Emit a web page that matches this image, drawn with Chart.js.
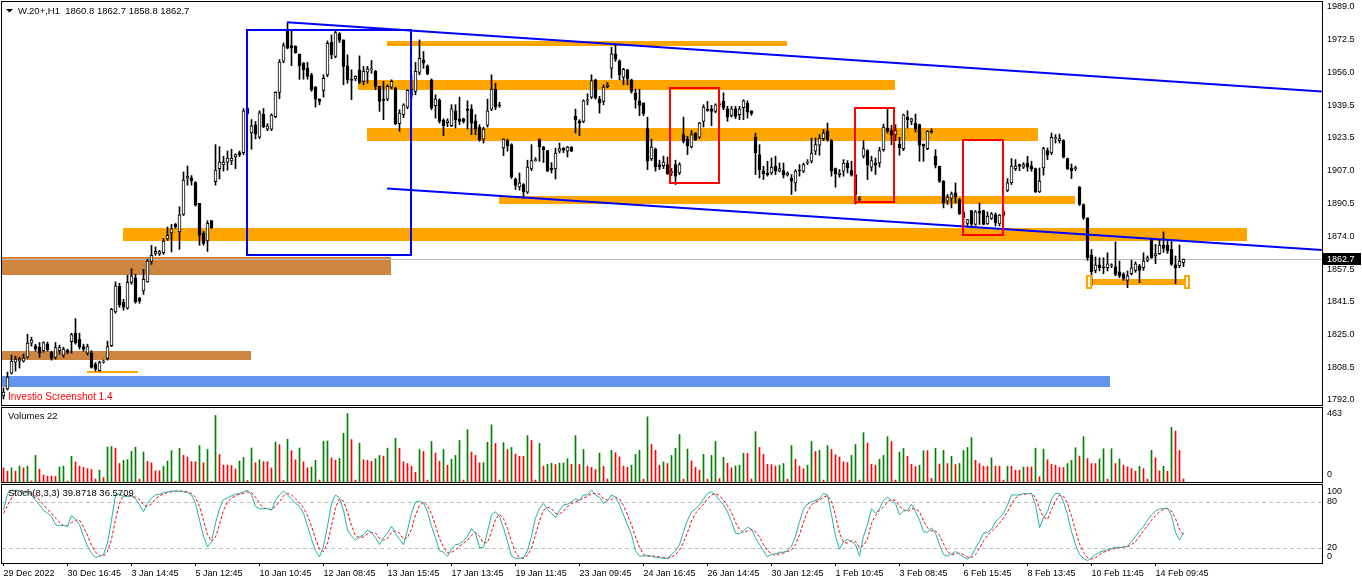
<!DOCTYPE html>
<html>
<head>
<meta charset="utf-8">
<title>W.20+,H1</title>
<script src="https://cdn.jsdelivr.net/npm/chart.js@4.4.1/dist/chart.umd.min.js"></script>
<style>
    html, body { margin: 0; padding: 0; background: #fff; overflow: hidden; }
    #wrap { position: relative; width: 1362px; height: 585px; overflow: hidden; background: #fff; }
    #wrap canvas { position: absolute; left: 0; top: -20px; }
</style>
</head>
<body>
<div id="wrap">
    <canvas id="priceChart" width="1362" height="625"></canvas>
    <canvas id="volumeChart" width="1362" height="625"></canvas>
    <canvas id="stochChart" width="1362" height="625"></canvas>
</div>
<script>
// ---- data (one entry per bar, oldest first) ----
const opens = [
    1794,1797.5,1805.5,1811,1811.5,1811.5,1813.5,1820.5,1819,1818.5, 1816.7,1820,1815.8,1813.3,1816.7,1814.5,1817,1821.2,1825.5,1822.5,
    1818.8,1815.5,1815.5,1810,1806.7,1811,1812.8,1819.2,1836.2,1849, 1841,1838,1851,1853.3,1843,1846.7,1851.2,1861.5,1865.5,1865.2,
    1865.8,1872.8,1875.7,1880.1,1876.3,1885,1903.2,1903.2,1901,1890.6, 1875.7,1871.7,1881.9,1901.4,1908,1909.8,1911.2,1911.9,1913.8,1916,
    1916,1938.1,1925.9,1929.9,1923.8,1935.2,1927.8,1927.8,1934,1946.2, 1961.9,1977.1,1969.6,1969.3,1965.4,1960.8,1958.3,1955,1948.8,1942.8,
    1947.2,1955,1971.3,1964.2,1975.5,1972.5,1959.5,1952.8,1953,1957.5, 1951.7,1956.3,1957.5,1956.7,1949.2,1942.5,1942.8,1948.8,1948.3,1930.5,
    1935,1938.8,1945,1946.7,1956.2,1962.5,1959.5,1952.5,1939.5,1942.2, 1932.2,1931,1929.5,1937,1933,1933,1938,1937.8,1932,1928.8,
    1922.8,1929.7,1937.8,1947.8,1940,1918.3,1922,1920,1902.8,1898.8, 1900,1896.2,1907.8,1912,1922.5,1918.8,1917,1908.3,1907.8,1916.7,
    1918.3,1916.7,1918.8,1934.2,1932,1931.7,1942,1943.8,1952.5,1942.8, 1941.7,1949,1958.3,1965.5,1962,1953.8,1957.5,1952.5,1945.8,1942,
    1940.8,1928,1912.8,1917.8,1910,1909.5,1910,1906,1910,1905.8, 1925,1922.8,1918.8,1925.8,1923.8,1931.7,1937.5,1938,1936.7,1940,
    1941.7,1938,1934.7,1938,1935,1938.5,1940.8,1937,1923.7,1915, 1907,1905.8,1905.8,1909.2,1906.7,1907,1904.7,1903.3,1900.8,1907,
    1906.7,1910.8,1911.7,1916.7,1919.7,1923,1926.7,1922,1908,1905, 1906.7,1910.8,1907,1905,1892.5,1914.2,1917,1908.7,1910.8,1910.8,
    1917.5,1928.3,1927,1925,1920.3,1918,1933.7,1931.7,1930.8,1930, 1920.3,1918,1926.5,1914.2,1909.2,1901.7,1891.7,1893,1895.8,1892.5,
    1886,1880.5,1887,1880,1886.7,1887,1880.3,1883,1885,1880.3, 1886.3,1897,1900.8,1908,1910,1908.7,1910.8,1909.2,1908,1896.3,
    1908.3,1917,1915.8,1923,1922,1922,1913,1908.3,1908,1898.7, 1890,1883.3,1864.7,1857,1859.7,1858.3,1858.3,1859.3,1858.7,1856.3,
    1855.3,1852,1855.3,1857,1859.2,1858.3,1862,1872.5,1864.2,1865.3, 1869.7,1869.7,1867.5,1859.7,1859.2,1860.8
];
const highs = [
    1798,1806,1814.5,1814,1813.5,1815,1825,1823.5,1820,1820.8, 1821.2,1821,1816.5,1820.8,1819.5,1818.5,1817.5,1825.5,1832.8,1825.5,
    1820,1820,1816.7,1810.8,1811.5,1812,1821.5,1838,1851.2,1850.5, 1842.5,1854.5,1857.8,1855,1843.5,1857.5,1862.5,1869.5,1868.7,1867,
    1873,1878.7,1880,1880.5,1888.8,1906.3,1909.3,1904.5,1901.5,1890.6, 1876.5,1881.9,1882,1920,1919,1914.2,1916.8,1917.7,1915.4,1916.8,
    1938.1,1938.5,1932.6,1931.7,1937,1938.1,1930.5,1935.5,1946.5,1962.6, 1971,1981.2,1977.1,1969.6,1965.4,1961.2,1961.2,1955.8,1949.2,1943,
    1955,1972,1975,1977.5,1976.2,1972.5,1965,1957.5,1954.5,1964.5, 1959.2,1959.2,1962.2,1957.2,1949.2,1951.7,1950,1952.5,1948.8,1937.5,
    1940.5,1947.5,1955,1961.2,1972.5,1966.7,1960,1953,1945,1943, 1933,1933,1940,1940,1943.8,1933.3,1942,1940,1935,1930,
    1928.8,1942.8,1955,1950.8,1941.2,1923,1922.8,1920.5,1903.3,1905.8, 1900.5,1912.2,1920,1913.5,1923,1919.2,1917.2,1911,1918.3,1920.8,
    1918.5,1919.2,1919,1937.8,1932.5,1942.5,1945.5,1955,1952.8,1944.2, 1950,1951.2,1968.8,1970,1962.5,1958.3,1957.8,1952.8,1947.8,1947.8,
    1941,1933.8,1922.8,1918.3,1912.2,1914.2,1913.8,1908,1912.2,1911, 1933.8,1924.2,1927.2,1926,1931.2,1940,1941.7,1939.7,1940.5,1941.5,
    1946,1939.2,1939.2,1939.2,1939.2,1942.5,1942,1937,1925.8,1920, 1909.2,1911.7,1913.3,1914.2,1910.8,1910.8,1906.3,1905,1907.5,1910,
    1910.8,1912.5,1923.3,1923.3,1925,1927.5,1930.8,1922.5,1908.3,1907.5, 1912.5,1912,1911.7,1905,1894,1922,1917.5,1914.2,1913.3,1918.7,
    1930.3,1938.3,1929.7,1930,1923.7,1935.3,1937,1933.3,1935.3,1930.3, 1920.3,1927,1928,1917.5,1909.2,1902,1895,1896.3,1900.8,1893,
    1887,1882.5,1887,1887,1890.8,1887.2,1886.3,1886,1885.8,1885, 1887,1903,1913,1912.5,1910.3,1911,1914.2,1911.7,1908.3,1908.3,
    1918.7,1918.3,1925.8,1925,1925.3,1922.5,1913.3,1910.3,1909.2,1899, 1890.3,1883.3,1867.5,1863.7,1863.3,1863.3,1865.8,1860.3,1871.3,1861.7,
    1855.8,1856.7,1862,1861.3,1860,1865.8,1864.2,1873,1870,1872.5, 1876.3,1871.7,1872.5,1864.2,1869.7,1862.7
];
const lows = [
    1792.5,1797,1805,1806.5,1808,1811,1813,1819,1816.5,1813.3, 1816,1816.5,1812,1812.5,1815,1813.3,1815.3,1815.5,1820,1817.5,
    1816.5,1814.5,1808,1806.5,1806.5,1810.5,1812,1818.8,1835.5,1838.5, 1837,1837.5,1850,1840.5,1840.5,1845,1851,1860,1864.5,1864.4,
    1865,1872,1866.2,1878,1867.5,1884.5,1899.7,1899.7,1889.2,1869.6, 1869.6,1866.5,1878,1899.7,1902.8,1906.7,1907.2,1910,1908,1914,
    1915,1935,1917.7,1922.9,1923,1928.5,1927,1927,1933.5,1943, 1961,1968,1959.6,1965.8,1952.7,1952.8,1952.8,1946.7,1938.8,1940,
    1943.8,1954,1963,1963.5,1971.2,1950,1950.8,1942.5,1952,1950.5, 1950,1950.8,1955.8,1947.5,1936.7,1932.5,1942,1948,1930,1926.7,
    1933.5,1938,1943,1945,1955,1958.3,1955,1937.5,1933.3,1930.8, 1924.5,1929,1929,1928.3,1930,1930.8,1927.8,1925,1925,1921.7,
    1920.8,1928.8,1937,1937.5,1938.7,1914.5,1916.7,1903,1897.5,1897.2, 1893,1895.5,1907,1911.7,1911.7,1911,1906.5,1905.8,1902.8,1915.8,
    1916,1913.8,1916.5,1925.8,1924.5,1931,1940,1943,1942.8,1935.8, 1940,1948.5,1953.3,1961.7,1952.5,1950,1950,1945.8,1938.3,1934.5,
    1934.5,1907.5,1912,1906.7,1907.5,1908,1905,1904.5,1900,1905, 1920.8,1915,1918.3,1922,1923,1928.8,1936.7,1929.5,1936,1939,
    1937.5,1931.7,1933.8,1933,1932.5,1932.5,1933.3,1934.7,1905,1903.3, 1902.5,1904.2,1905,1905,1906.3,1903.3,1904.2,1895,1896.7,1904.2,
    1906,1910,1910.8,1915,1914.7,1922,1921.7,1904.2,1898.7,1903.7, 1904.2,1905.8,1904.2,1890.3,1891.7,1913.3,1902.5,1906.7,1905,1908.7,
    1916.7,1925.8,1920,1922,1914.7,1917,1928.3,1930,1926.3,1911.7, 1911.7,1917.5,1925.8,1908.3,1901,1888.3,1890,1888.3,1890.8,1885,
    1879,1878.5,1878.3,1879.5,1880,1879.8,1880,1882.5,1879.2,1879.2, 1884,1896.5,1900,1907,1907,1908,1906.7,1906.7,1896,1896,
    1904.7,1912.5,1915,1920.8,1920.8,1913.3,1907.5,1903,1907,1889.5, 1882.5,1862,1849.2,1855.8,1856.7,1855.3,1856.7,1858.3,1854.2,1853.3,
    1852,1848.3,1854.7,1856,1850.8,1857,1861.3,1863,1860.3,1865, 1866,1865.5,1859.5,1850.3,1858.3,1858.8
];
const closes = [
    1796,1803.5,1811.5,1812.5,1812.5,1813,1820.5,1822,1817.5,1815.5, 1820.8,1817.2,1812.8,1818.3,1818.3,1817.5,1815.8,1824.8,1820.8,1818.8,
    1817.5,1818.8,1808.3,1807.5,1810.8,1811.3,1818.8,1837.5,1849.2,1839.5, 1838.5,1851,1854.2,1841.2,1841.5,1852.5,1861.7,1864.5,1866.5,1866.4,
    1871.7,1874.5,1877.8,1878.7,1884.8,1902.3,1904.2,1901.8,1889.7,1874.5, 1870.5,1880.6,1878.4,1907.2,1911.2,1911.2,1913.3,1913.3,1915,1915,
    1936.9,1935.7,1929.4,1925.2,1936,1929,1929.4,1934.8,1946.2,1961.4, 1969.6,1968.4,1968.4,1966.1,1959.6,1957.5,1954.2,1947.5,1942.8,1941.7,
    1953.3,1970.8,1965,1976.2,1972.2,1959.2,1952.5,1952.2,1954.2,1951.2, 1956.7,1958,1957.8,1949.2,1941.7,1942.2,1949.2,1951.7,1930.5,1935.8,
    1940,1947.2,1948,1956.7,1963.3,1960.8,1955.5,1938.3,1942.8,1931.7, 1929.5,1932,1938,1932.5,1931.7,1931.7,1937.2,1930.8,1927.8,1922.5,
    1927.8,1937,1947.8,1938.8,1939.5,1922.8,1919.5,1903.8,1899.5,1900.8, 1896.2,1908.8,1912,1912.5,1918.8,1917.5,1906.7,1907.5,1915.8,1918,
    1917.2,1918.8,1916.7,1932.5,1930.8,1942,1942.5,1952,1943.3,1940.8, 1948.8,1950,1965.5,1962.8,1955,1957.8,1952.8,1946.7,1942.5,1939.7,
    1935.5,1911.7,1918.8,1908.8,1908.8,1911.2,1905.5,1906.5,1904.2,1910, 1921.7,1919.5,1925,1922.5,1930.8,1938.8,1937.2,1936.7,1940,1940.5,
    1938.3,1933.8,1938,1934.2,1938,1942,1936.3,1935.7,1915.8,1907.5, 1905.5,1905,1908.7,1906.7,1908,1904.7,1905.8,1901.7,1906.7,1906.8,
    1910,1911,1915.8,1920,1923.3,1925.8,1922.5,1906.7,1905.3,1905.8, 1910.8,1908.3,1904.7,1895,1893.3,1918,1909.7,1912,1909.7,1917,
    1928.8,1926.7,1924.7,1927,1918.3,1935,1932.5,1933,1928,1919.7, 1919.2,1926.7,1926.3,1909.7,1901.7,1890.8,1893.7,1895.3,1893.7,1885.3,
    1883.5,1882.5,1880,1886.3,1885.7,1880,1884.2,1885.3,1880.8,1884.7, 1884.7,1900.8,1909.2,1909.2,1909.2,1910,1908.7,1908,1896.3,1901.7,
    1918,1914.7,1923.7,1923,1923,1913.7,1908,1907,1908,1890, 1883.3,1863.3,1856.3,1859.7,1858.3,1858.2,1860.3,1859.3,1855,1854.2,
    1853,1854.2,1858.3,1860.3,1857,1861.7,1863.3,1863.3,1865.3,1869.7, 1868,1866.7,1860,1858.3,1861.7,1862.7
];
const volumes = [
    96,73,96,73,107,96,107,7,180,87, 47,40,40,38,102,107,7,174,136,107, 100,90,85,20,80,30,236,240,229,125,
    147,151,207,236,20,203,140,130,76,76, 107,142,212,5,228,181,169,138,138,247, 130,220,3,450,186,115,115,112,88,142,
    166,10,230,130,150,138,138,95,270,253, 10,290,212,150,230,136,96,102,147,13, 276,278,163,147,160,330,463,287,13,263,
    151,147,140,158,180,175,229,7,296,229, 136,125,107,65,220,207,13,274,196,140, 220,114,154,180,281,13,354,203,180,129,
    131,269,387,261,13,267,220,234,189,174, 174,314,281,13,261,107,120,127,118,127, 129,158,120,314,118,220,107,98,85,196,
    107,20,214,198,169,107,100,114,187,214, 20,441,254,214,114,136,125,180,229,321, 20,223,143,100,80,187,20,180,274,24,
    167,127,96,109,114,194,194,20,341,234, 187,120,118,107,114,125,20,247,154,107, 91,114,274,207,214,13,247,220,185,169,
    136,131,180,254,13,334,263,120,114,154, 180,307,274,13,203,227,174,120,105,114, 212,212,24,229,122,214,125,174,118,125,
    214,234,301,147,125,107,107,163,107,107, 13,107,107,80,80,102,102,102,229,36, 223,151,120,114,98,98,125,147,232,176,
    307,158,125,125,156,225,20,225,125,156, 114,102,91,73,107,91,20,214,163,76, 107,73,370,345,214,20
];
const stochMain = [
    69,91,95,95,95,91,93,89,82,76, 69,65,61,50,49,49,48,62,57,50, 35,22,13,7,9,11,26,56,89,90,
    87,87,88,84,76,67,78,85,89,90, 92,93,94,94,94,93,92,89,78,56, 35,21,28,52,71,83,85,88,90,91,
    93,95,89,74,71,71,71,69,82,89, 94,89,84,78,74,65,48,31,16,8, 22,48,78,89,85,69,43,35,30,34,
    37,43,40,33,24,33,39,48,39,31, 24,43,65,80,81,78,67,48,33,16, 14,9,18,24,25,29,35,45,39,20,
    20,41,63,67,61,46,28,9,6,6, 7,16,35,59,71,78,70,65,59,69, 76,77,80,84,82,89,89,95,89,86,
    78,82,89,86,76,63,50,37,16,9, 9,10,9,7,7,6,6,11,16,24, 41,56,67,71,76,84,91,93,89,82,
    76,67,54,39,38,42,47,44,33,24, 16,8,11,12,14,14,16,22,35,54, 71,77,80,82,84,91,89,63,35,18,
    28,31,28,24,9,35,50,71,65,71, 82,86,82,78,63,68,69,77,67,56, 41,40,46,39,24,11,9,12,15,11,
    8,5,9,20,28,39,40,44,54,59, 65,76,89,89,89,91,91,91,76,46, 59,67,84,91,91,80,63,41,24,11,
    6,3,7,11,14,16,18,19,21,20, 21,22,28,35,42,48,56,63,68,71, 71,72,62,40,30,39.8718
];
const stochSignal = [
    65,75,85,94,95,94,93,91,88,82, 76,70,65,59,53,49,49,53,56,56, 47,36,23,14,10,9,15,31,57,78,
    89,88,87,86,83,76,74,77,84,88, 90,92,93,94,94,94,93,91,86,74, 56,37,28,34,50,69,80,85,88,90,
    91,93,92,86,78,72,71,70,74,80, 88,91,89,84,79,72,62,48,32,18, 15,26,49,72,84,81,66,49,36,33,
    34,38,40,39,32,30,32,40,42,39, 31,33,44,63,75,80,75,64,49,32, 21,13,14,17,22,26,30,36,40,35,
    26,27,41,57,64,58,45,28,14,7, 6,10,19,37,55,69,73,71,65,64, 68,74,78,80,82,85,87,91,91,90,
    84,82,83,86,84,75,63,50,34,21, 11,9,9,9,8,7,6,8,11,17, 27,40,55,65,71,77,84,89,91,88,
    82,75,66,53,44,40,42,44,41,34, 24,16,12,10,12,13,15,17,24,37, 53,67,76,80,82,86,88,81,62,39,
    27,26,29,28,20,23,31,52,62,69, 73,80,83,82,74,70,67,71,71,67, 55,46,42,42,36,25,15,11,12,13,
    11,8,7,11,19,29,36,41,46,52, 59,67,77,85,89,90,90,91,86,71, 60,57,70,81,89,87,78,61,43,25,
    14,7,5,7,11,14,16,18,19,20, 21,21,24,28,35,42,49,56,62,67, 70,71,68,58,44,36.5709
];

// time axis: a label every 16 bars
const timeTickBars = [0,16,32,48,64,80,96,112,128,144,160,176,192,208,224,240,256,272,288];
const timeTickLabels = ["29 Dec 2022","30 Dec 16:45","3 Jan 14:45","5 Jan 12:45","10 Jan 10:45","12 Jan 08:45",
    "13 Jan 15:45","17 Jan 13:45","19 Jan 11:45","23 Jan 09:45","24 Jan 16:45","26 Jan 14:45","30 Jan 12:45",
    "1 Feb 10:45","3 Feb 08:45","6 Feb 15:45","8 Feb 13:45","10 Feb 11:45","14 Feb 09:45"];
const priceTicks = [1989.0,1972.5,1956.0,1939.5,1923.5,1907.0,1890.5,1874.0,1857.5,1841.5,1825.0,1808.5,1792.0];

// drawn objects: [fromBar, toBar, upperPrice, lowerPrice]
const orangeZones = [
    [95.9, 195.9, 1972, 1969.5],
    [88.6, 222.9, 1952.5, 1947.5],
    [90.9, 258.6, 1928.5, 1922],
    [123.9, 267.9, 1894.5, 1890.5],
    [29.9, 310.9, 1878, 1871.5],
    [20.9, 33.6, 1806.5, 1805.5],
    [271.4, 295.9, 1852.5, 1849.5]
];
const brownZones = [[-1, 96.9, 1863.5, 1854.5], [-1, 61.9, 1816.5, 1812]];
const blueZones = [[-1, 276.6, 1804, 1798.5]];
const blueBoxes = [[60.9, 101.75, 1977.5, 1864.5]];
const redBoxes = [[166.7, 178.9, 1948.3, 1900.8], [212.9, 222.6, 1938.6, 1891.1], [239.9, 249.9, 1922.2, 1874.5]];
// trend lines: [bar1, price1, bar2, price2]
const trendLines = [[70.9, 1981.3, 329.6, 1946.7], [95.9, 1898, 329.6, 1867.2]];
const bidPrice = 1862.7;

// ---- shared setup ----
const FONT = "'Liberation Sans', Arial, sans-serif";
Chart.defaults.font.family = FONT;
Chart.defaults.font.size = 9;
Chart.defaults.color = '#000';
Chart.defaults.animation = false;

const X_MIN = -0.375, X_MAX = 329.625;
const bars = opens.map((_, i) => i);

function xAxis(show) {
    const axis = {
        type: 'linear', min: X_MIN, max: X_MAX, display: show, offset: false,
        grid: { display: true, offset: false, drawOnChartArea: false, drawTicks: true, tickLength: 3, color: '#000' },
        border: { display: false },
        afterBuildTicks: s => { s.ticks = timeTickBars.map(v => ({ value: v })); },
        ticks: {
            autoSkip: false, maxRotation: 0, align: 'start', padding: 2,
            callback: v => timeTickLabels[timeTickBars.indexOf(v)]
        }
    };
    if (show) axis.afterFit = s => { s.height = 22; };
    return axis;
}

function hiddenY(min, max) {
    return {
        type: 'linear', position: 'right', min: min, max: max,
        grid: { display: false, drawTicks: false }, border: { display: false },
        ticks: { display: false },
        afterFit: s => { s.width = 40; }
    };
}

function frame(chart) {
    const a = chart.chartArea, ctx = chart.ctx;
    ctx.save();
    ctx.strokeStyle = '#000';
    ctx.lineWidth = 1;
    ctx.strokeRect(Math.round(a.left) - 0.5, Math.round(a.top) - 0.5,
        Math.round(a.right - a.left) + 1, Math.round(a.bottom - a.top) + 1);
    ctx.restore();
}

function zoneRect(chart, z) {
    const { x, y } = chart.scales;
    const x1 = Math.round(x.getPixelForValue(z[0])), x2 = Math.round(x.getPixelForValue(z[1]));
    const y1 = Math.round(y.getPixelForValue(z[2])), y2 = Math.round(y.getPixelForValue(z[3]));
    return [x1, y1, x2 - x1, y2 - y1];
}

function axisText(ctx, text, x, y) {
    ctx.fillStyle = '#000';
    ctx.font = '9px ' + FONT;
    ctx.textAlign = 'left';
    ctx.textBaseline = 'middle';
    ctx.fillText(text, x, y);
}

// ---- price window ----
const priceObjects = {
    id: 'priceObjects',
    beforeDatasetsDraw(chart) {
        const ctx = chart.ctx, a = chart.chartArea;
        ctx.save();
        ctx.beginPath();
        ctx.rect(a.left, a.top, a.right - a.left, a.bottom - a.top);
        ctx.clip();
        ctx.fillStyle = '#CD853F';
        brownZones.forEach(z => ctx.fillRect(...zoneRect(chart, z)));
        ctx.fillStyle = '#6495ED';
        blueZones.forEach(z => ctx.fillRect(...zoneRect(chart, z)));
        ctx.fillStyle = '#FFA500';
        orangeZones.forEach(z => ctx.fillRect(...zoneRect(chart, z)));
        // bid line
        const by = Math.round(chart.scales.y.getPixelForValue(bidPrice)) + 0.5;
        ctx.strokeStyle = '#C0C0C0';
        ctx.lineWidth = 1;
        ctx.beginPath();
        ctx.moveTo(a.left, by);
        ctx.lineTo(a.right, by);
        ctx.stroke();
        ctx.restore();
    },
    afterDatasetsDraw(chart) {
        const ctx = chart.ctx, a = chart.chartArea;
        const { x, y } = chart.scales;
        ctx.save();
        ctx.beginPath();
        ctx.rect(a.left, a.top, a.right - a.left, a.bottom - a.top);
        ctx.clip();
        ctx.lineWidth = 2;
        ctx.strokeStyle = '#0000FF';
        blueBoxes.forEach(b => ctx.strokeRect(...zoneRect(chart, b)));
        trendLines.forEach(t => {
            ctx.beginPath();
            ctx.moveTo(x.getPixelForValue(t[0]), y.getPixelForValue(t[1]));
            ctx.lineTo(x.getPixelForValue(t[2]), y.getPixelForValue(t[3]));
            ctx.stroke();
        });
        ctx.strokeStyle = '#FF0000';
        redBoxes.forEach(b => ctx.strokeRect(...zoneRect(chart, b)));
        // selection handles of the last orange zone
        const sel = zoneRect(chart, orangeZones[orangeZones.length - 1]);
        [sel[0], sel[0] + sel[2]].forEach(hx => {
            ctx.fillStyle = '#fff';
            ctx.fillRect(hx - 2, sel[1] - 3, 4, sel[3] + 6);
            ctx.strokeStyle = '#FFA500';
            ctx.strokeRect(hx - 2, sel[1] - 3, 4, sel[3] + 6);
        });
        ctx.restore();
    },
    afterDraw(chart) {
        const ctx = chart.ctx, a = chart.chartArea;
        frame(chart);
        ctx.save();
        // header
        ctx.fillStyle = '#000';
        ctx.beginPath();
        ctx.moveTo(a.left + 4, a.top + 7);
        ctx.lineTo(a.left + 11, a.top + 7);
        ctx.lineTo(a.left + 7.5, a.top + 10.5);
        ctx.closePath();
        ctx.fill();
        ctx.font = '9.5px ' + FONT;
        ctx.textAlign = 'left';
        ctx.textBaseline = 'middle';
        ctx.fillText('W.20+,H1  1860.8 1862.7 1858.8 1862.7', a.left + 16, a.top + 9);
        ctx.fillStyle = '#FF0000';
        ctx.font = '10px ' + FONT;
        ctx.fillText('Investio Screenshot 1.4', a.left + 6, a.bottom - 8);
        // bid price tag on the axis
        const by = Math.round(chart.scales.y.getPixelForValue(bidPrice));
        ctx.fillStyle = '#000';
        ctx.fillRect(a.right + 1, by - 6, 38, 12);
        ctx.fillStyle = '#fff';
        ctx.font = '9px ' + FONT;
        ctx.fillText(bidPrice.toFixed(1), a.right + 5, by + 0.5);
        ctx.restore();
    }
};

new Chart(document.getElementById('priceChart'), {
    type: 'bar',
    data: {
        datasets: [
            {
                label: 'Body',
                data: bars.map(i => ({ x: i, y: [opens[i], closes[i]] })),
                backgroundColor: c => (closes[c.dataIndex] >= opens[c.dataIndex] ? '#FFFFFF' : '#000000'),
                borderColor: '#000',
                borderWidth: 1,
                borderSkipped: false,
                barThickness: 3,
                minBarLength: 1,
                grouped: false,
                order: 0
            },
            {
                label: 'Wick',
                data: bars.map(i => ({ x: i, y: [lows[i], highs[i]] })),
                backgroundColor: '#000',
                borderWidth: 0,
                barThickness: 1,
                grouped: false,
                order: 1
            }
        ]
    },
    options: {
        responsive: false,
        events: [],
        layout: { padding: { left: 2, right: 0, top: 22, bottom: 200 } },
        plugins: { legend: { display: false }, tooltip: { enabled: false } },
        scales: {
            x: xAxis(false),
            y: {
                type: 'linear', position: 'right', min: 1789.5, max: 1991.5,
                grid: { display: false, drawTicks: false }, border: { display: false },
                afterBuildTicks: s => { s.ticks = priceTicks.map(v => ({ value: v })); },
                afterFit: s => { s.width = 40; },
                ticks: { padding: 5, callback: v => v.toFixed(1) }
            }
        }
    },
    plugins: [priceObjects]
});

// ---- volumes window ----
const volumeText = {
    id: 'volumeText',
    afterDraw(chart) {
        const ctx = chart.ctx, a = chart.chartArea;
        frame(chart);
        ctx.save();
        ctx.fillStyle = '#000';
        ctx.font = '9.5px ' + FONT;
        ctx.textAlign = 'left';
        ctx.textBaseline = 'middle';
        ctx.fillText('Volumes 22', a.left + 6, a.top + 8);
        axisText(ctx, String(Math.max(...volumes)), a.right + 5, a.top + 6);
        axisText(ctx, '0', a.right + 5, a.bottom - 7);
        ctx.restore();
    }
};

new Chart(document.getElementById('volumeChart'), {
    type: 'bar',
    data: {
        datasets: [{
            label: 'Volumes',
            data: bars.map(i => ({ x: i, y: volumes[i] })),
            backgroundColor: c => (c.dataIndex > 0 && volumes[c.dataIndex] > volumes[c.dataIndex - 1] ? '#008000' : '#FF0000'),
            borderWidth: 0,
            barThickness: 1,
            grouped: false
        }]
    },
    options: {
        responsive: false,
        events: [],
        layout: { padding: { left: 2, right: 0, top: 428, bottom: 123 } },
        plugins: { legend: { display: false }, tooltip: { enabled: false } },
        scales: { x: xAxis(false), y: hiddenY(0, 501) }
    },
    plugins: [volumeText]
});

// ---- stochastic window ----
const stochText = {
    id: 'stochText',
    beforeDatasetsDraw(chart) {
        const ctx = chart.ctx, a = chart.chartArea;
        ctx.save();
        ctx.strokeStyle = '#C0C0C0';
        ctx.lineWidth = 1;
        ctx.setLineDash([4, 3]);
        [80, 20].forEach(v => {
            const ly = Math.round(chart.scales.y.getPixelForValue(v)) + 0.5;
            ctx.beginPath();
            ctx.moveTo(a.left, ly);
            ctx.lineTo(a.right, ly);
            ctx.stroke();
        });
        ctx.restore();
    },
    afterDraw(chart) {
        const ctx = chart.ctx, a = chart.chartArea, y = chart.scales.y;
        frame(chart);
        ctx.save();
        ctx.fillStyle = '#000';
        ctx.font = '9.5px ' + FONT;
        ctx.textAlign = 'left';
        ctx.textBaseline = 'middle';
        const n = stochMain.length - 1;
        ctx.fillText('Stoch(8,3,3) ' + stochMain[n] + ' ' + stochSignal[n], a.left + 6, a.top + 8);
        axisText(ctx, '100', a.right + 5, a.top + 7);
        axisText(ctx, '80', a.right + 5, y.getPixelForValue(80));
        axisText(ctx, '20', a.right + 5, y.getPixelForValue(20));
        axisText(ctx, '0', a.right + 5, a.bottom - 6);
        ctx.restore();
    }
};

new Chart(document.getElementById('stochChart'), {
    type: 'line',
    data: {
        datasets: [
            {
                label: 'Main',
                data: bars.map(i => ({ x: i, y: stochMain[i] })),
                borderColor: '#20B2AA',
                borderWidth: 1,
                pointRadius: 0,
                tension: 0
            },
            {
                label: 'Signal',
                data: bars.map(i => ({ x: i, y: stochSignal[i] })),
                borderColor: '#FF0000',
                borderWidth: 1,
                borderDash: [3, 2],
                pointRadius: 0,
                tension: 0
            }
        ]
    },
    options: {
        responsive: false,
        events: [],
        layout: { padding: { left: 2, right: 0, top: 505, bottom: 20 } },
        plugins: { legend: { display: false }, tooltip: { enabled: false } },
        scales: { x: xAxis(true), y: hiddenY(0, 102) }
    },
    plugins: [stochText]
});
</script>
</body>
</html>
